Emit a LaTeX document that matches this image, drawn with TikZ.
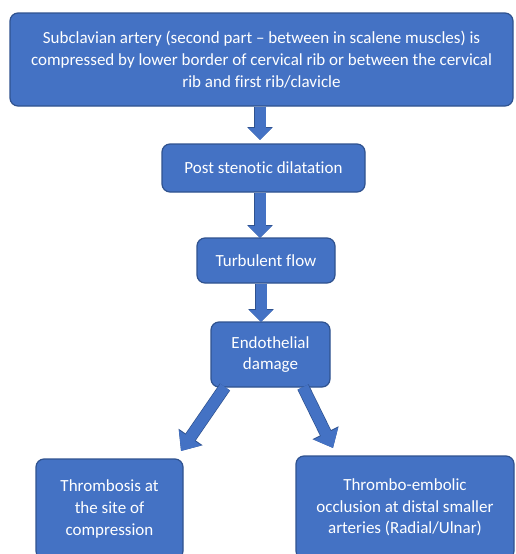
\documentclass[tikz,border=0pt]{standalone}
\usepackage{fontspec}
\setmainfont{Carlito}[Ligatures=NoCommon]
\usetikzlibrary{arrows.meta}
\definecolor{boxfill}{HTML}{4472C4}
\definecolor{boxline}{HTML}{2F528F}
\tikzset{
  box/.style={draw=boxline, line width=1.2pt, fill=boxfill, rounded corners=8pt,
    text=white, align=center, font=\fontsize{17}{21.7}\selectfont, inner sep=0pt},
  blockarrow/.style={boxfill, line width=11pt,
    -{Triangle[length=12pt, width=23pt]},
    preaction={draw=boxline, line width=12.4pt, -{Triangle[length=13pt, width=25pt]}}},
  diagarrow/.style={boxfill, line width=11pt,
    -{Triangle[length=16pt, width=26pt]},
    preaction={draw=boxline, line width=12.4pt, -{Triangle[length=17pt, width=28pt]}}}
}
\begin{document}
\begin{tikzpicture}[x=1pt, y=-1pt]
\useasboundingbox (0,0) rectangle (515,554);
\node[box, minimum width=503pt, minimum height=93pt] (b1) at (261.5,59.5)
  {Subclavian artery (second part -- between in scalene muscles) is\\
   compressed by lower border of cervical rib or between the cervical\\
   rib and first rib/clavicle};
\node[box, minimum width=203pt, minimum height=48pt] (b2) at (263.5,168)
  {Post stenotic dilatation};
\node[box, minimum width=138pt, minimum height=45pt] (b3) at (266,260.5)
  {Turbulent flow};
\node[box, minimum width=119pt, minimum height=65pt] (b4) at (270.5,354.5)
  {Endothelial\\damage};
\node[box, minimum width=147pt, minimum height=100pt] (b5) at (109.5,509)
  {Thrombosis at\\the site of\\compression};
\node[box, minimum width=218pt, minimum height=103pt] (b6) at (405,507.5)
  {Thrombo-embolic\\occlusion at distal smaller\\arteries (Radial/Ulnar)};
\coordinate (t1) at (260,140);
\coordinate (t2) at (260,238);
\coordinate (t3) at (261,322);
\coordinate (s5) at (225,387);
\coordinate (t5) at (181,451);
\coordinate (s6) at (303,387);
\coordinate (t6) at (333,448);
\draw[blockarrow] (b1.south -| t1) -- (t1);
\draw[blockarrow] (b2.south -| t2) -- (t2);
\draw[blockarrow] (b3.south -| t3) -- (t3);
\draw[diagarrow] (s5) -- (t5);
\draw[diagarrow] (s6) -- (t6);
\end{tikzpicture}
\end{document}
